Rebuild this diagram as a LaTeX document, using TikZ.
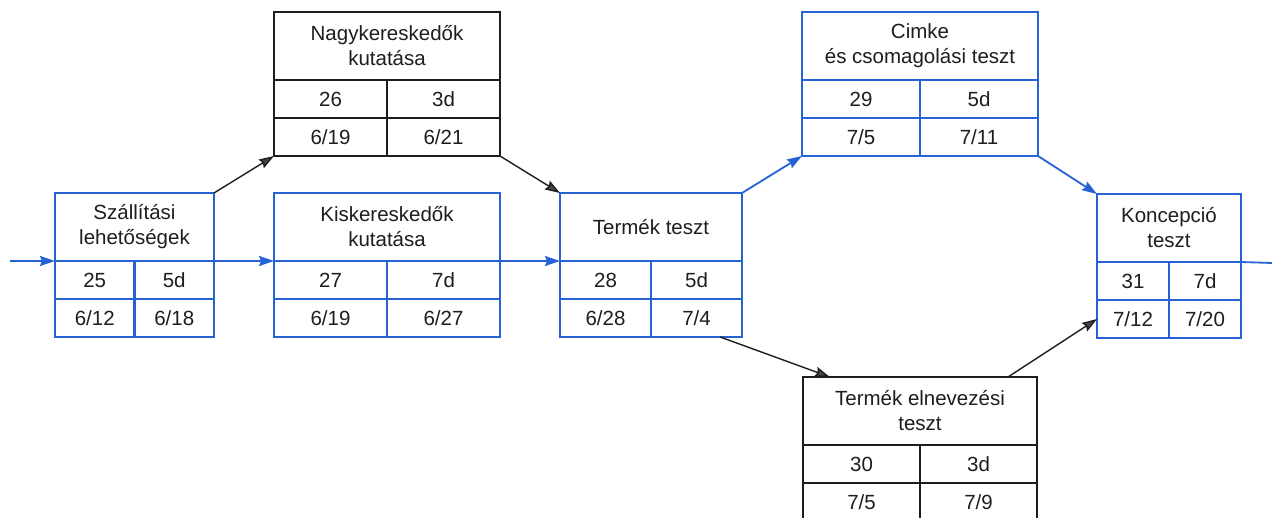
\documentclass[tikz,border=0pt]{standalone}
\usepackage{fontspec}
\setmainfont{Liberation Sans}
\usetikzlibrary{arrows.meta,calc}
\definecolor{netblue}{RGB}{38,98,212}
\definecolor{netdark}{RGB}{30,30,30}
\definecolor{tipdark}{RGB}{70,70,70}
\tikzset{
  cell/.style={draw, rectangle, inner sep=0pt, outer sep=0pt, align=center,
    font=\fontsize{20.5}{25}\selectfont, text=netdark},
  crit/.style={draw=netblue, line width=2.6pt},
  plain/.style={draw=netdark, line width=1.8pt},
  critlink/.style={netblue, line width=1.8pt,
    -{Stealth[length=15pt,width=10pt,inset=2pt]}},
  link/.style={netdark, line width=1.4pt,
    -{Stealth[length=15pt,width=10pt,inset=2pt,fill=tipdark]}},
}
% #1 name, #2 top-left corner, #3 width, #4 style, #5 title,
% #6 id, #7 duration, #8 earliest start, #9 earliest finish
\newcommand\taskbox[9]{%
  \node[cell,#4,minimum width=#3pt,minimum height=68pt,anchor=north west] (#1) at #2 {#5};
  \node[cell,#4,minimum width=#3pt/2,minimum height=38pt,anchor=north west] (#1-id) at (#1.south west) {#6};
  \node[cell,#4,minimum width=#3pt/2,minimum height=38pt,anchor=north east] (#1-dur) at (#1.south east) {#7};
  \node[cell,#4,minimum width=#3pt/2,minimum height=38pt,anchor=north west] (#1-es) at (#1-id.south west) {#8};
  \node[cell,#4,minimum width=#3pt/2,minimum height=38pt,anchor=north east] (#1-ef) at (#1-dur.south east) {#9};
}
\begin{document}
\begin{tikzpicture}[x=1pt,y=-1pt]
\useasboundingbox (0,0) rectangle (1272,518);
\fill[white] (0,0) rectangle (1272,518);

\taskbox{szall}{(55,193)}{159}{crit}{Szállítási\\lehetőségek}{25}{5d}{6/12}{6/18}
\taskbox{nagy}{(274,12)}{226}{plain}{Nagykereskedők\\kutatása}{26}{3d}{6/19}{6/21}
\taskbox{kisk}{(274,193)}{226}{crit}{Kiskereskedők\\kutatása}{27}{7d}{6/19}{6/27}
\taskbox{termek}{(560,193)}{182}{crit}{Termék teszt}{28}{5d}{6/28}{7/4}
\taskbox{cimke}{(802,12)}{236}{crit}{Cimke\\és csomagolási teszt}{29}{5d}{7/5}{7/11}
\taskbox{elnev}{(803,377)}{234}{plain}{Termék elnevezési\\teszt}{30}{3d}{7/5}{7/9}
\taskbox{konc}{(1097,194)}{144}{crit}{Koncepció\\teszt}{31}{7d}{7/12}{7/20}

\coordinate (start) at (10,261);
\coordinate (finish) at (1272,263);

% critical path
\draw[critlink] (start) -- (szall.south west);
\draw[critlink] (szall.south east) -- (kisk.south west);
\draw[critlink] (kisk.south east) -- (termek.south west);
\draw[critlink] (termek.north east) -- (cimke-es.south west);
\draw[critlink] (cimke-ef.south east) -- (konc.north west);
\draw[netblue, line width=1.8pt] (konc.south east) -- (finish);

% other links
\draw[link] (szall.north east) -- (nagy-es.south west);
\draw[link] (nagy-ef.south east) -- (termek.north west);
\draw[link] ($(termek-ef.south west)!0.76!(termek-ef.south east)$)
  -- ($(elnev.north west)!0.115!(elnev.north east)$);
\draw[link] ($(elnev.north west)!0.876!(elnev.north east)$) -- (konc-es.west);
\end{tikzpicture}
\end{document}
